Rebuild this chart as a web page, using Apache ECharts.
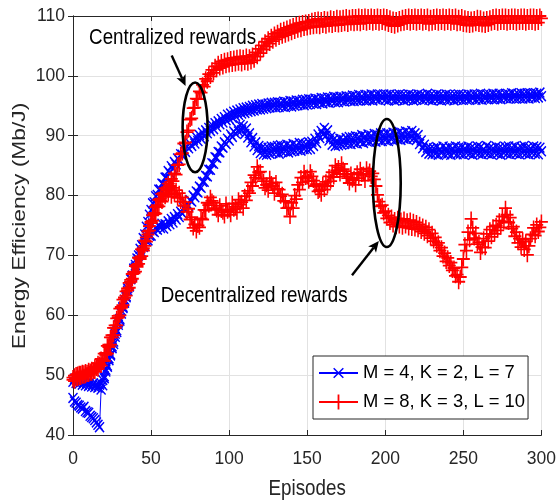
<!DOCTYPE html>
<html>
<head>
<meta charset="utf-8">
<script src="https://cdn.jsdelivr.net/npm/echarts@6/dist/echarts.min.js"></script>
<style>
  html, body { margin: 0; padding: 0; background: #ffffff; }
  #chart { width: 559px; height: 504px; }
</style>
</head>
<body>
<div id="chart"></div>
<script>
// Training curves: energy efficiency per episode (0 … 300)
const episodes = [
  0,1,2,3,4,5,6,7,8,9,10,11,12,13,14,15,16,17,18,19,20,21,22,23,24,25,26,27,28,29,
  30,31,32,33,34,35,36,37,38,39,40,41,42,43,44,45,46,47,48,49,50,51,52,53,54,55,56,57,58,59,
  60,61,62,63,64,65,66,67,68,69,70,71,72,73,74,75,76,77,78,79,80,81,82,83,84,85,86,87,88,89,
  90,91,92,93,94,95,96,97,98,99,100,101,102,103,104,105,106,107,108,109,110,111,112,113,114,115,116,117,118,119,
  120,121,122,123,124,125,126,127,128,129,130,131,132,133,134,135,136,137,138,139,140,141,142,143,144,145,146,147,148,149,
  150,151,152,153,154,155,156,157,158,159,160,161,162,163,164,165,166,167,168,169,170,171,172,173,174,175,176,177,178,179,
  180,181,182,183,184,185,186,187,188,189,190,191,192,193,194,195,196,197,198,199,200,201,202,203,204,205,206,207,208,209,
  210,211,212,213,214,215,216,217,218,219,220,221,222,223,224,225,226,227,228,229,230,231,232,233,234,235,236,237,238,239,
  240,241,242,243,244,245,246,247,248,249,250,251,252,253,254,255,256,257,258,259,260,261,262,263,264,265,266,267,268,269,
  270,271,272,273,274,275,276,277,278,279,280,281,282,283,284,285,286,287,288,289,290,291,292,293,294,295,296,297,298,299,300
];

// M = 4, K = 2, L = 7 — centralized rewards
const blueCentral = [
  46.2,45.6,45.4,45.0,44.9,44.6,44.4,44.7,44.0,43.8,
  43.7,43.2,43.0,42.8,42.5,42.1,41.7,41.3,47.6,48.3,
  49.5,50.6,51.4,52.5,53.3,54.5,55.2,56.4,57.2,58.4,
  59.1,60.3,61.2,62.1,63.0,64.1,64.8,66.0,66.6,67.8,
  68.4,69.5,70.0,71.1,71.7,72.9,73.5,74.8,75.6,76.8,
  77.6,78.7,78.9,79.9,80.1,81.0,81.0,82.0,81.9,83.0,
  83.0,84.1,83.8,84.9,84.5,85.6,85.2,86.2,85.9,86.9,
  86.8,87.8,87.3,88.2,87.9,88.7,88.3,89.3,88.7,89.8,
  89.1,90.1,89.5,90.5,89.9,90.9,90.4,91.3,90.8,91.8,
  91.1,92.1,91.5,92.4,91.9,92.8,92.2,93.1,92.6,93.5,
  92.8,93.7,93.0,94.0,93.3,94.2,93.5,94.4,93.7,94.6,
  93.8,94.7,94.0,94.8,94.1,95.0,94.2,95.1,94.4,95.2,
  94.4,95.3,94.5,95.2,94.6,95.4,94.7,95.5,94.8,95.5,
  94.7,95.6,94.8,95.5,94.9,95.7,94.8,95.6,95.0,95.8,
  94.9,95.7,95.0,95.9,95.1,95.8,95.2,96.0,95.1,96.0,
  95.2,96.1,95.3,96.0,95.4,96.2,95.3,96.1,95.5,96.3,
  95.4,96.2,95.6,96.4,95.5,96.3,95.7,96.5,95.6,96.4,
  95.6,96.5,95.8,96.4,95.7,96.6,95.9,96.5,95.8,96.7,
  95.8,96.6,95.9,96.8,95.9,96.6,96.0,96.8,95.9,96.7,
  96.0,96.9,95.9,96.7,96.1,96.9,96.0,96.8,96.2,96.9,
  96.0,96.8,95.9,96.9,96.1,96.7,95.9,96.8,96.0,96.9,
  96.1,96.8,95.9,96.7,96.0,96.9,96.1,96.8,95.9,96.7,
  96.0,96.9,96.2,96.8,96.0,96.7,96.1,97.0,96.0,96.8,
  95.9,96.7,96.1,96.9,96.0,96.8,95.9,96.7,96.1,96.9,
  96.0,96.8,96.1,96.7,95.9,96.8,96.0,96.9,96.1,96.8,
  96.0,96.7,96.1,96.9,96.0,96.8,96.2,96.9,96.0,96.8,
  96.1,97.0,96.0,96.8,96.2,96.9,96.1,96.8,96.2,97.0,
  96.1,96.9,96.2,97.0,96.1,96.8,96.3,97.0,96.2,96.9,
  96.2,97.1,96.3,96.9,96.2,97.0,96.3,97.1,96.2,97.0,
  96.3,97.1,96.2,97.0,96.4,97.1,96.3,97.0,96.4,97.2,
  96.6
];

// M = 4, K = 2, L = 7 — decentralized rewards
const blueLocal = [
  48.9,49.4,48.7,49.2,48.6,49.0,48.4,48.9,48.3,48.7,
  48.2,48.8,48.1,48.6,48.0,48.5,47.9,48.4,48.6,49.2,
  49.8,50.9,51.6,52.8,53.5,54.8,55.6,56.9,57.5,58.8,
  59.4,60.8,61.4,62.6,63.2,64.5,64.9,66.2,66.6,67.7,
  68.0,69.0,69.3,70.3,70.5,71.4,71.6,72.4,72.5,73.3,
  73.3,74.1,73.9,74.6,74.3,75.1,74.6,75.3,74.5,75.2,
  74.9,75.7,75.2,76.1,75.5,76.4,76.0,76.9,76.4,77.3,
  77.0,77.9,77.6,78.6,78.3,79.2,79.0,80.0,79.7,80.7,
  80.5,81.5,81.3,82.3,82.3,83.3,83.2,84.3,84.3,85.4,
  85.3,86.4,86.3,87.3,87.2,88.2,88.0,88.9,88.6,89.5,
  89.2,90.2,89.8,90.7,90.4,91.3,90.7,91.8,90.9,91.6,
  90.3,91.2,89.7,90.4,88.9,89.6,88.2,88.9,87.6,88.3,
  87.1,88.0,86.9,87.9,86.8,88.0,87.0,88.2,87.1,88.1,
  87.2,88.3,87.0,88.4,87.3,88.2,87.4,88.5,87.2,88.3,
  87.4,88.6,87.5,88.4,87.6,88.8,87.5,88.7,87.8,88.6,
  87.7,88.9,87.8,89.0,88.3,89.5,88.8,90.2,89.6,90.8,
  90.2,91.3,90.0,90.9,89.2,89.8,88.5,89.4,88.3,89.2,
  88.4,89.5,88.5,89.3,88.6,89.6,88.7,89.8,88.6,89.7,
  88.8,89.9,88.7,89.8,89.0,90.1,88.8,89.9,89.1,90.2,
  89.0,90.0,89.2,90.3,89.0,90.1,89.3,90.4,89.1,90.2,
  89.3,90.4,89.1,90.2,89.4,90.5,89.2,90.3,89.4,90.6,
  89.3,90.4,89.5,90.7,89.4,90.5,89.6,90.8,89.5,90.4,
  89.3,90.1,88.6,89.2,87.9,88.5,87.3,88.0,87.0,87.9,
  86.9,87.9,87.0,88.1,86.8,87.8,87.1,88.2,86.9,87.9,
  87.0,88.1,86.8,87.9,87.1,88.2,86.9,88.0,87.0,88.1,
  86.9,87.9,87.1,88.2,87.0,88.0,86.8,87.9,87.1,88.2,
  87.0,88.1,86.9,87.8,87.1,88.3,87.0,88.0,86.9,87.9,
  87.1,88.2,87.0,88.0,86.8,87.9,87.1,88.1,87.0,88.2,
  86.9,88.0,87.1,88.2,87.0,87.9,86.9,88.1,87.1,88.3,
  87.0,88.0,86.9,87.9,87.1,88.2,87.0,88.1,86.9,88.0,
  87.4
];

// M = 8, K = 3, L = 10 — centralized rewards
const redCentral = [
  49.2,49.9,49.4,50.2,49.6,50.3,49.8,50.4,49.9,50.5,
  50.1,50.7,50.3,50.9,50.6,51.3,51.0,51.8,51.6,52.4,
  52.4,53.4,53.6,54.7,55.1,56.3,56.7,57.9,58.3,59.6,
  60.0,61.3,61.7,63.0,63.3,64.5,64.6,65.9,66.1,67.2,
  67.3,68.4,68.6,69.7,69.9,71.2,71.6,73.0,73.5,74.9,
  75.4,76.7,76.9,78.1,78.1,79.3,79.2,80.3,80.1,81.2,
  80.9,82.0,81.6,82.8,82.4,83.7,83.5,85.1,85.2,86.9,
  87.1,88.7,88.9,90.6,90.9,92.7,92.9,94.6,94.7,96.2,
  96.1,97.4,97.2,98.5,98.2,99.5,99.1,100.3,99.9,101.0,
  100.5,101.6,101.0,102.1,101.3,102.4,101.5,102.6,101.7,102.7,
  101.8,102.9,101.9,103.0,102.0,103.1,102.1,103.2,102.0,103.1,
  102.2,103.3,102.1,103.2,102.3,103.5,102.6,103.9,103.2,104.5,
  103.8,105.1,104.4,105.7,104.9,106.2,105.4,106.6,105.8,107.0,
  106.1,107.3,106.4,107.6,106.6,107.8,106.8,108.0,107.0,108.2,
  107.2,108.4,107.4,108.6,107.6,108.8,107.7,108.9,107.9,109.0,
  108.0,109.1,108.1,109.3,108.2,109.4,108.3,109.5,108.2,109.4,
  108.4,109.6,108.3,109.5,108.5,109.7,108.4,109.6,108.6,109.8,
  108.5,109.7,108.6,109.8,108.7,109.9,108.6,109.8,108.8,109.9,
  108.7,109.9,108.8,110.0,108.7,109.9,108.9,110.0,108.8,109.9,
  108.9,110.0,108.8,109.9,108.9,110.0,108.8,109.9,108.9,110.0,
  108.8,109.9,108.6,109.7,108.4,109.5,108.3,109.4,108.5,109.6,
  108.7,109.8,108.8,109.9,108.9,110.0,108.8,109.9,108.9,110.0,
  108.8,109.9,108.9,110.0,108.8,109.9,108.9,110.0,108.7,109.8,
  108.8,109.9,108.9,110.0,108.8,109.9,108.9,110.0,108.8,109.9,
  108.9,110.0,108.8,109.9,108.9,110.0,108.7,109.8,108.8,109.9,
  108.6,109.7,108.5,109.6,108.4,109.5,108.5,109.6,108.7,109.8,
  108.6,109.7,108.5,109.5,108.4,109.6,108.6,109.7,108.8,109.9,
  108.9,110.0,108.8,109.9,108.9,110.0,108.9,110.0,108.8,109.9,
  108.9,110.0,108.9,110.0,108.8,109.9,108.9,110.0,108.9,110.0,
  108.8,109.9,108.9,110.0,108.9,110.0,108.8,109.9,108.9,110.0,
  109.6
];

// M = 8, K = 3, L = 10 — decentralized rewards
const redLocal = [
  49.6,49.0,50.1,49.4,50.3,49.6,50.5,49.8,50.6,50.1,
  50.8,50.3,51.0,50.6,51.4,51.1,52.0,51.8,52.7,52.6,
  53.6,53.7,54.9,55.1,56.3,56.7,57.9,58.3,59.5,59.9,
  61.1,61.4,62.6,62.9,64.0,64.2,65.4,65.6,66.9,67.0,
  68.2,68.1,69.6,69.4,71.0,70.8,72.5,72.3,74.0,74.2,
  75.6,75.8,77.1,77.0,78.4,78.2,79.5,79.0,80.4,79.8,
  81.2,80.3,81.6,79.9,81.3,80.2,80.9,79.6,80.4,79.0,
  79.7,78.3,78.9,77.3,77.8,76.0,76.4,74.6,75.2,74.1,
  75.0,74.7,76.2,76.0,77.6,77.5,78.8,78.4,79.7,79.1,
  78.8,77.9,77.6,76.8,78.3,77.5,77.2,76.6,78.6,77.4,
  77.6,76.8,78.7,77.7,78.1,77.2,79.3,78.5,78.9,77.9,
  79.9,79.2,80.8,80.4,82.2,81.6,83.4,83.0,84.8,83.9,
  84.0,82.8,82.4,81.3,81.8,80.9,82.9,82.0,81.6,80.4,
  82.2,81.1,81.0,79.9,80.2,79.1,79.0,77.9,78.0,76.5,
  78.8,77.9,80.0,79.4,81.8,81.0,83.0,82.2,83.9,83.0,
  83.1,82.4,84.0,83.2,82.5,81.6,81.9,80.7,80.9,80.2,
  81.9,81.0,82.3,81.6,83.2,82.4,83.9,83.1,85.0,84.2,
  84.7,83.6,85.3,84.4,84.1,83.2,82.9,82.1,83.6,82.6,
  82.9,81.8,83.8,82.9,84.4,83.5,83.6,82.5,84.5,83.6,
  84.1,83.2,83.7,82.7,81.6,80.1,79.0,78.2,78.4,77.1,
  77.4,76.2,76.7,75.5,76.4,75.1,76.0,74.8,76.2,74.9,
  75.9,74.7,76.1,74.9,75.8,74.6,75.9,74.5,75.7,74.4,
  75.5,74.3,75.2,74.0,74.9,73.7,74.7,73.3,74.3,72.9,
  73.7,72.4,73.0,71.7,72.1,70.8,71.3,69.9,70.4,69.0,
  69.6,68.3,68.8,67.5,67.9,66.6,66.8,65.6,66.4,68.0,
  69.4,71.8,70.8,73.9,72.6,76.1,74.6,72.9,73.7,71.9,
  72.2,70.5,71.4,72.8,71.3,73.6,72.4,74.3,73.1,74.8,
  73.6,75.0,74.2,75.8,74.7,76.5,75.6,77.9,76.8,75.5,
  76.3,74.5,74.8,73.2,73.9,72.1,72.8,71.4,72.6,71.0,
  72.3,70.1,71.6,72.8,73.5,74.6,73.3,75.1,74.0,74.7,
  75.6
];

const legendNames = ['M = 4, K = 2, L = 7', 'M = 8, K = 3, L = 10'];
const xTicks = { min: 0, max: 300, step: 50 };
const yTicks = { min: 40, max: 110, step: 10 };
const xTitle = 'Episodes';
const yTitle = 'Energy Efficiency (Mb/J)';
const noteCentral = 'Centralized rewards';
const noteLocal = 'Decentralized rewards';

// Marker shapes: thin filled "x" (padded so it reads smaller than the "+") and "+"
const crossMarker = 'path://M0,0M14,14M2,3L3,2L12,11L11,12ZM11,2L12,3L3,12L2,11Z';
const plusMarker = 'path://M4.4,0H5.6V10H4.4ZM0,4.4H10V5.6H0Z';

const FONT = '"Liberation Sans", Arial, Helvetica, sans-serif';
const INK = '#262626';
const GRIDC = '#e2e2e2';
const STRETCH = 1.2;   // lettering is drawn taller than it is wide

const pairs = vals => episodes.map((e, i) => [e, vals[i]]);

function curve(name, vals, color, symbol, size) {
  return {
    name: name,
    type: 'line',
    data: pairs(vals),
    symbol: symbol,
    symbolSize: size,
    showSymbol: true,
    showAllSymbol: true,
    clip: false,
    lineStyle: { color: color, width: 1 },
    itemStyle: { color: color },
    emphasis: { disabled: true },
    animation: false
  };
}

const chart = echarts.init(document.getElementById('chart'), null, { renderer: 'canvas' });

const baseAxis = {
  axisLine: { show: true, lineStyle: { color: INK, width: 1 } },
  axisTick: { show: true, inside: true, length: 5, lineStyle: { color: INK, width: 1 } },
  splitLine: { show: false }
};

chart.setOption({
  animation: false,
  backgroundColor: '#ffffff',
  grid: { left: 73, right: 16, top: 16, bottom: 69, containLabel: false },
  xAxis: [
    Object.assign({}, baseAxis, {
      type: 'value', min: xTicks.min, max: xTicks.max, interval: xTicks.step,
      position: 'bottom',
      axisLabel: { color: INK, fontFamily: FONT, fontSize: 17.5, margin: 15 },
      splitLine: { show: true, lineStyle: { color: GRIDC, width: 1 } }
    }),
    Object.assign({}, baseAxis, {
      type: 'value', min: xTicks.min, max: xTicks.max, interval: xTicks.step,
      position: 'top', axisLabel: { show: false }
    })
  ],
  yAxis: [
    Object.assign({}, baseAxis, {
      type: 'value', min: yTicks.min, max: yTicks.max, interval: yTicks.step,
      position: 'left',
      axisLabel: { color: INK, fontFamily: FONT, fontSize: 17.5, margin: 8 },
      splitLine: { show: true, lineStyle: { color: GRIDC, width: 1 } }
    }),
    Object.assign({}, baseAxis, {
      type: 'value', min: yTicks.min, max: yTicks.max, interval: yTicks.step,
      position: 'right', axisLabel: { show: false }
    })
  ],
  legend: {
    data: legendNames,
    orient: 'vertical',
    left: 313, top: 356,
    itemWidth: 39, itemHeight: 18.75, itemGap: 11,
    padding: [8, 3, 8, 5],
    backgroundColor: '#ffffff',
    borderColor: INK, borderWidth: 1, borderRadius: 0,
    selectedMode: false,
    textStyle: { color: '#000000', fontFamily: FONT, fontSize: 18.4 }
  },
  series: [
    curve(legendNames[0], blueCentral, '#0000ff', crossMarker, [14, 15.4]),
    curve(legendNames[0], blueLocal, '#0000ff', crossMarker, [14, 15.4]),
    curve(legendNames[1], redCentral, '#ff0000', plusMarker, [13, 15]),
    curve(legendNames[1], redLocal, '#ff0000', plusMarker, [13, 15])
  ]
});

// Annotation anchors in data units: ellipse centres/radii, arrow ends, text centres
const ellipseCentral = { c: [78.2, 91.4], r: [8.0, 7.5] };
const ellipseLocal = { c: [201.0, 82.1], r: [8.9, 10.7] };
const arrowCentral = { from: [63.2, 103.4], to: [72.1, 98.3] };
const arrowLocal = { from: [178.7, 66.7], to: [195.9, 72.4] };
const textCentral = [63.8, 106.3];
const textLocal = [116.0, 63.2];
const xTitleAt = [150.0, 31.0];

const px = p => chart.convertToPixel({ xAxisIndex: 0, yAxisIndex: 0 }, p);

function ellipse(e) {
  const c = px(e.c);
  const edge = px([e.c[0] + e.r[0], e.c[1] + e.r[1]]);
  return {
    type: 'ellipse', silent: true, z: 100,
    shape: { cx: c[0], cy: c[1], rx: Math.abs(edge[0] - c[0]), ry: Math.abs(edge[1] - c[1]) },
    style: { fill: null, stroke: '#000000', lineWidth: 2.6 }
  };
}

function arrow(a) {
  const p0 = px(a.from), p1 = px(a.to);
  const dx = p1[0] - p0[0], dy = p1[1] - p0[1];
  const L = Math.hypot(dx, dy);
  const ux = dx / L, uy = dy / L, nx = -uy, ny = ux;
  const len = 11, hw = 5;
  const bx = p1[0] - ux * len, by = p1[1] - uy * len;
  const kx = p1[0] - ux * len * 0.75, ky = p1[1] - uy * len * 0.75;
  return [
    { type: 'line', silent: true, z: 100,
      shape: { x1: p0[0], y1: p0[1], x2: kx, y2: ky },
      style: { stroke: '#000000', lineWidth: 2.4 } },
    { type: 'polygon', silent: true, z: 100,
      shape: { points: [[p1[0], p1[1]], [bx + nx * hw, by + ny * hw], [kx, ky], [bx - nx * hw, by - ny * hw]] },
      style: { fill: '#000000' } }
  ];
}

function label(text, at, size, color) {
  const p = px(at);
  return {
    type: 'text', silent: true, z: 100, x: p[0], y: p[1], scaleY: STRETCH,
    style: { text: text, fill: color, font: size + 'px ' + FONT, align: 'center', verticalAlign: 'middle' }
  };
}

// Rotated y-axis title, stretched along its length like the rest of the lettering
const yTitleEl = {
  type: 'text', silent: true, z: 100,
  x: 20, y: 226, rotation: Math.PI / 2, scaleX: STRETCH,
  style: { text: yTitle, fill: INK, font: '19px ' + FONT, align: 'center', verticalAlign: 'middle' }
};

chart.setOption({
  graphic: [
    ellipse(ellipseCentral),
    ellipse(ellipseLocal),
    ...arrow(arrowCentral),
    ...arrow(arrowLocal),
    label(noteCentral, textCentral, 18.8, '#000000'),
    label(noteLocal, textLocal, 18.8, '#000000'),
    label(xTitle, xTitleAt, 18.8, INK),
    yTitleEl
  ]
});
</script>
</body>
</html>
